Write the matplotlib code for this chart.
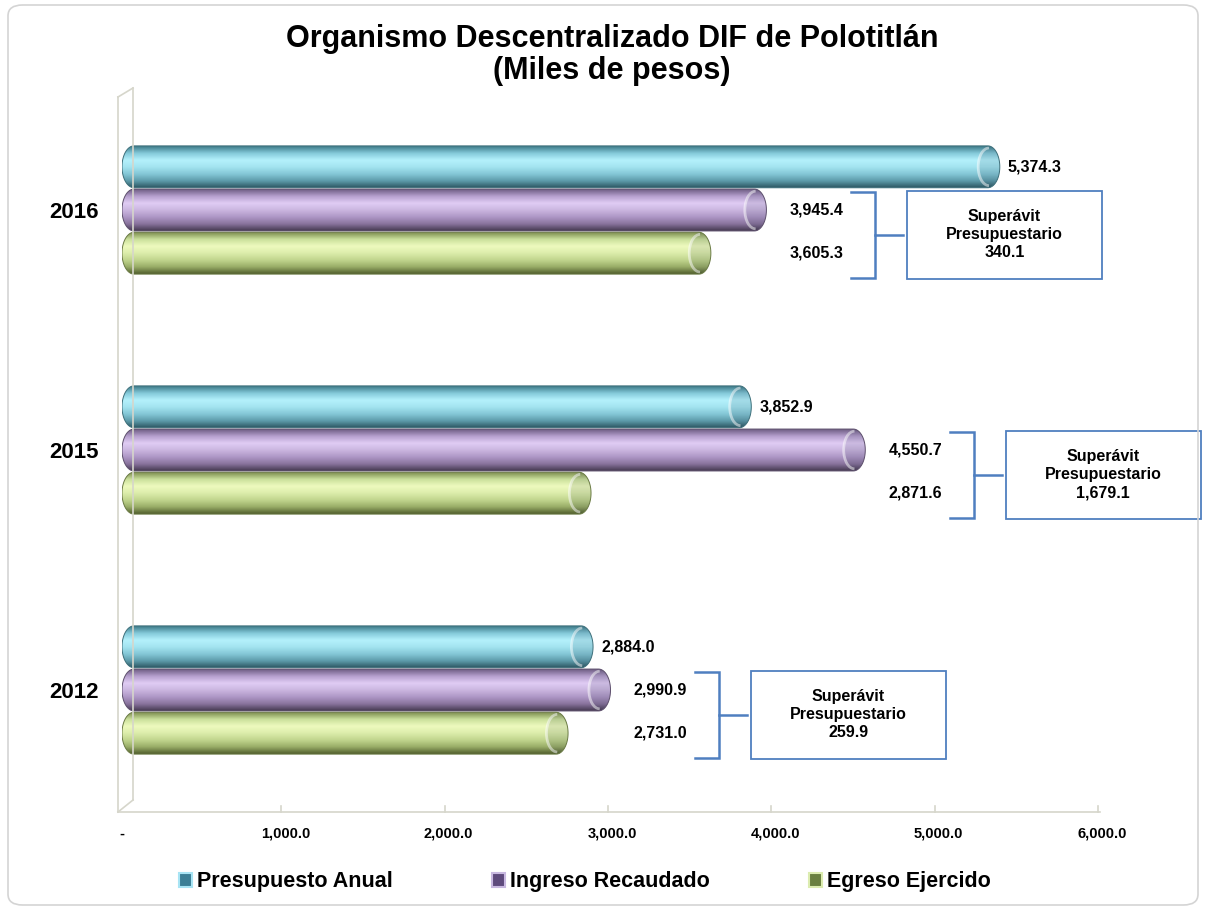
import matplotlib
matplotlib.use("Agg")
import matplotlib.pyplot as plt
import numpy as np
from matplotlib.patches import FancyBboxPatch, Rectangle, Patch, PathPatch, Ellipse, Arc
from matplotlib.path import Path
from matplotlib.colors import LinearSegmentedColormap
from matplotlib.lines import Line2D

plt.rcParams['font.family'] = ['Liberation Sans', 'DejaVu Sans']

# ---------------- data ----------------
years = ["2012", "2015", "2016"]
presupuesto = [2884.0, 3852.9, 5374.3]
ingreso = [2990.9, 4550.7, 3945.4]
egreso = [2731.0, 2871.6, 3605.3]
series_names = ["Presupuesto Anual", "Ingreso Recaudado", "Egreso Ejercido"]
xticks = [0, 1000, 2000, 3000, 4000, 5000, 6000]
xtick_labels = ["-", "1,000.0", "2,000.0", "3,000.0", "4,000.0", "5,000.0", "6,000.0"]
title = "Organismo Descentralizado DIF de Polotitlán\n(Miles de pesos)"
box_title = "Superávit\nPresupuestario"

# ---------------- style ----------------
W, H = 1205, 907
fig = plt.figure(figsize=(W / 100, H / 100), dpi=100)
fig.patch.set_facecolor("white")

def fx(px):
    return px / W

def fy(py):
    return 1 - py / H

ax = fig.add_axes([fx(122), fy(810), fx(1102) - fx(122), fy(90) - fy(810)])
ax.set_xlim(0, 6000)
ax.set_ylim(-0.5, 2.5)
ax.set_facecolor("none")
for s in ax.spines.values():
    s.set_visible(False)

gradients = {
    "cyan": ["#3f7c8a", "#86cbdb", "#b4f1fc", "#a3e4f0", "#84c7d6", "#5e9cab", "#2c5661"],
    "purple": ["#6f5e84", "#b7a1cf", "#e0ccf4", "#cbb6e0", "#ae97c6", "#8a749e", "#463a52"],
    "green": ["#7d8e50", "#cbe09c", "#eefabe", "#dcedab", "#c1d58e", "#9aae68", "#52602f"],
}
edge_cols = {"cyan": "#3d6f7a", "purple": "#5d4f6c", "green": "#6a7a44"}
legend_grad = {"cyan": ("#a8e4f4", "#3c7f96"), "purple": ("#c8b8e0", "#5e4a7c"),
               "green": ("#dcecb0", "#6a8040")}
keys = ["cyan", "purple", "green"]
series = [presupuesto, ingreso, egreso]

bh = 0.18
offsets = [bh, 0.0, -bh]
y = np.arange(len(years))

# data units per pixel
ux = 6000 / 980.0
uy = 3.0 / 720.0
rx = 12 * ux  # x-radius of the rounded ends


def capsule(x0, y0, w, h, rxx):
    ry = h / 2
    yc = y0 + ry
    t1 = np.linspace(-np.pi / 2, np.pi / 2, 40)  # right end
    right = np.column_stack([x0 + w - rxx + rxx * np.cos(t1), yc + ry * np.sin(t1)])
    t2 = np.linspace(np.pi / 2, 3 * np.pi / 2, 40)  # left end
    left = np.column_stack([x0 + rxx + rxx * np.cos(t2), yc + ry * np.sin(t2)])
    verts = np.vstack([right, left, right[:1]])
    codes = [Path.MOVETO] + [Path.LINETO] * (len(verts) - 2) + [Path.CLOSEPOLY]
    return Path(verts, codes)


for vals, key, off in zip(series, keys, offsets):
    bars = ax.barh(y + off, vals, height=bh * 0.97, color="none", edgecolor="none")
    cmap = LinearSegmentedColormap.from_list(key, gradients[key])
    grad = np.linspace(1, 0, 64).reshape(-1, 1)
    for b in bars:
        x0, y0 = b.get_x(), b.get_y()
        w, h = b.get_width(), b.get_height()
        clip = PathPatch(capsule(x0, y0, w, h, rx), facecolor="none",
                         edgecolor=edge_cols[key], linewidth=0.7, zorder=3)
        ax.add_patch(clip)
        im = ax.imshow(grad, extent=(x0, x0 + w, y0, y0 + h), aspect="auto",
                       cmap=cmap, origin="lower", zorder=2, interpolation="bicubic")
        im.set_clip_path(clip)
        # end cap (flat face of the cylinder)
        cx = x0 + w - rx * 0.9
        face = Ellipse((cx, y0 + h / 2), 1.8 * rx, h, facecolor="#1c2a40", alpha=0.10,
                       edgecolor="none", zorder=2.4)
        ax.add_patch(face)
        face.set_clip_path(clip)
        rim = Arc((cx, y0 + h / 2), 1.8 * rx, h * 0.9, theta1=100, theta2=260,
                  edgecolor="white", alpha=0.5, lw=2.0, zorder=2.5)
        ax.add_patch(rim)

ax.set_xticks(xticks)
ax.set_xticklabels(xtick_labels, fontsize=10.5, fontweight="bold")
ax.set_yticks(y)
ax.set_yticklabels(years, fontsize=16, fontweight="bold")
ax.tick_params(axis="x", length=0, pad=12)
ax.tick_params(axis="y", length=0, pad=17)

# value labels
lbl_kw = dict(fontsize=11.5, fontweight="bold", va="center", color="black")
for i in range(len(years)):
    ax.text(presupuesto[i] + 50, y[i] + bh, f"{presupuesto[i]:,.1f}", ha="left", **lbl_kw)
    xr = max(ingreso[i], egreso[i]) + 470
    ax.text(xr, y[i], f"{ingreso[i]:,.1f}", ha="right", **lbl_kw)
    ax.text(xr, y[i] - bh, f"{egreso[i]:,.1f}", ha="right", **lbl_kw)

# brackets and surplus boxes
bc = "#4f7fc0"
for i in range(len(years)):
    base = max(ingreso[i], egreso[i])
    bx = base + 665
    top = y[i] + 0.075
    bot = y[i] - 0.283
    mid = y[i] - 0.104
    tick = 24 * ux
    ax.plot([bx - tick, bx, bx, bx - tick], [top, top, bot, bot], color=bc, lw=1.8,
            clip_on=False, zorder=4, solid_joinstyle="miter")
    box_left = base + 860
    ax.plot([bx, box_left - 4 * ux], [mid, mid], color=bc, lw=1.8, clip_on=False, zorder=4)
    bw = 195 * ux
    bhh = 0.367
    rect = Rectangle((box_left, mid - bhh / 2), bw, bhh, facecolor="white",
                     edgecolor="#4f7fbf", lw=1.3, clip_on=False, zorder=4)
    ax.add_patch(rect)
    surplus = ingreso[i] - egreso[i]
    ax.text(box_left + bw / 2, mid, f"{box_title}\n{surplus:,.1f}", ha="center", va="center",
            fontsize=11.5, fontweight="bold", linespacing=1.25, zorder=5, clip_on=False)

# 3D wall / floor decoration (figure pixel space)
wc = "#d6d6cb"
def fline(xs, ys, **kw):
    fig.add_artist(Line2D([fx(v) for v in xs], [fy(v) for v in ys], color=wc, lw=1.2, **kw))

fline([118, 118], [97, 812])
fline([133, 133], [88, 800])
fline([118, 133], [97, 88])
fline([118, 1100], [812, 812])
fline([118, 133], [812, 800])
for t in xticks[1:]:
    px = 122 + t / ux - 4
    fline([px, px], [812, 806])

# outer rounded frame
frame = FancyBboxPatch((fx(8), fy(905)), fx(1198) - fx(8), fy(5) - fy(905),
                       boxstyle="round,pad=0,rounding_size=0.012",
                       transform=fig.transFigure, facecolor="none",
                       edgecolor="#d4d4d4", lw=1.2)
fig.add_artist(frame)

# title
fig.text(0.508, fy(55), title, ha="center", va="center", fontsize=22,
         fontweight="bold", linespacing=1.05)

# legend
handles = [Patch(facecolor=legend_grad[k][1], edgecolor=legend_grad[k][0], lw=1.5) for k in keys]
fig.legend(handles, series_names, loc="center", bbox_to_anchor=(fx(585), fy(882)),
           ncol=3, frameon=False, handlelength=0.6, handleheight=0.6,
           handletextpad=0.25, columnspacing=4.6,
           prop={"size": 15.5, "weight": "bold"})

fig.savefig("out.png", dpi=100)
